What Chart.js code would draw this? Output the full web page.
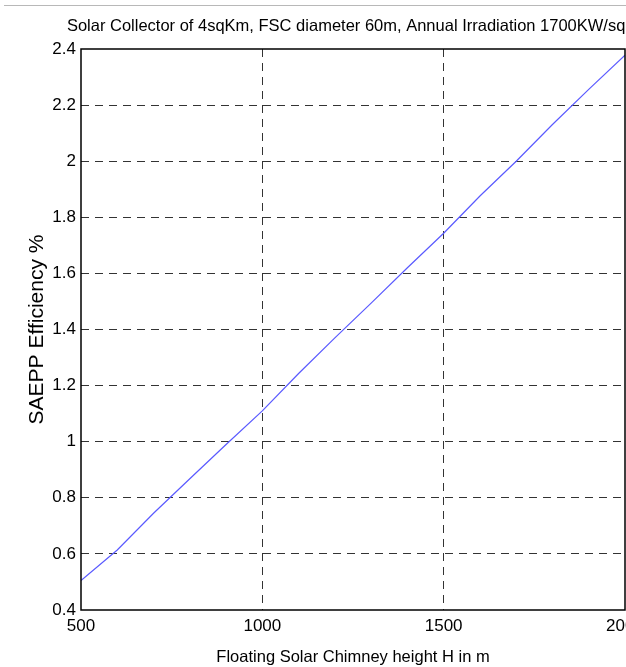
<!DOCTYPE html>
<html>
<head>
<meta charset="utf-8">
<script src="https://cdn.jsdelivr.net/npm/chart.js@4.4.1/dist/chart.umd.min.js"></script>
<style>
  html, body { margin: 0; padding: 0; background: #fff; overflow: hidden; }
  #wrap { position: relative; width: 626px; height: 667px; overflow: hidden; }
  #topline { position: absolute; left: 4px; right: 0; top: 5px; height: 1px; background: #b8b8b8; }
  #box { position: absolute; left: 0; top: 0; width: 700px; height: 667px; }
</style>
</head>
<body>
<div id="wrap">
  <div id="topline"></div>
  <div id="box"><canvas id="chart"></canvas></div>
</div>
<script>
// chimney height H (m) and efficiency (%)
const heights = [500, 600, 700, 800, 900, 1000, 1100, 1200, 1300, 1400, 1500, 1600, 1700, 1800, 1900, 2000];
const efficiency = [0.505, 0.614, 0.745, 0.868, 0.99, 1.11, 1.243, 1.37, 1.494, 1.62, 1.743, 1.876, 2.0, 2.131, 2.256, 2.378];
const xTicks = [500, 1000, 1500, 2000];
const yTicks = [0.4, 0.6, 0.8, 1, 1.2, 1.4, 1.6, 1.8, 2, 2.2, 2.4];
const chartTitle = 'Solar Collector of 4sqKm, FSC diameter 60m, Annual Irradiation 1700KW/sqm';

const FONT = "'Liberation Sans', Arial, sans-serif";

// plot frame like matlab's box on + the title (drawn by hand so it is not squeezed to fit)
const framePlugin = {
  id: 'frame',
  afterDraw(chart) {
    const { ctx, chartArea: a } = chart;
    ctx.save();
    ctx.strokeStyle = '#000';
    ctx.lineWidth = 1.5;
    ctx.strokeRect(a.left, a.top, a.right - a.left, a.bottom - a.top);
    ctx.fillStyle = '#000';
    ctx.font = "16.5px " + FONT;
    ctx.textAlign = 'center';
    ctx.textBaseline = 'alphabetic';
    ctx.fillText(chartTitle, (a.left + a.right) / 2, 31);
    ctx.restore();
  }
};

const ctx = document.getElementById('chart').getContext('2d');
new Chart(ctx, {
  type: 'line',
  data: {
    datasets: [{
      data: heights.map((h, i) => ({ x: h, y: efficiency[i] })),
      borderColor: '#5a5aff',
      borderWidth: 1.2,
      pointRadius: 0,
      tension: 0,
      fill: false
    }]
  },
  options: {
    responsive: true,
    maintainAspectRatio: false,
    animation: false,
    layout: { padding: { left: 0, right: 75, top: 49, bottom: 0 } },
    plugins: {
      legend: { display: false },
      tooltip: { enabled: false },
      title: { display: false }
    },
    scales: {
      x: {
        type: 'linear',
        min: 500,
        max: 2000,
        afterBuildTicks(s) { s.ticks = xTicks.map(v => ({ value: v })); },
        afterFit(s) { s.height = 57; },
        grid: {
          color: (c) => (c.tick && (c.tick.value === 500 || c.tick.value === 2000)) ? 'rgba(0,0,0,0)' : '#333',
          lineWidth: 1,
          drawTicks: false
        },
        border: { display: false, dash: [8, 6] },
        ticks: {
          color: '#000',
          font: { family: FONT, size: 17 },
          padding: 6,
          maxRotation: 0,
          autoSkip: false,
          callback: (v) => String(v)
        },
        title: {
          display: true,
          text: 'Floating Solar Chimney height H in m',
          color: '#000',
          font: { family: FONT, size: 16.5 },
          padding: { top: 4, bottom: 0 }
        }
      },
      y: {
        min: 0.4,
        max: 2.4,
        afterBuildTicks(s) { s.ticks = yTicks.map(v => ({ value: v })); },
        afterFit(s) { s.width = 81; },
        grid: {
          color: (c) => (c.tick && (c.tick.value === 0.4 || c.tick.value === 2.4)) ? 'rgba(0,0,0,0)' : '#333',
          lineWidth: 1,
          drawTicks: false
        },
        border: { display: false, dash: [8, 6] },
        ticks: {
          color: '#000',
          font: { family: FONT, size: 17 },
          padding: 5,
          autoSkip: false,
          callback: (v) => String(Math.round(v * 10) / 10)
        },
        title: {
          display: true,
          text: 'SAEPP Efficiency %',
          color: '#000',
          font: { family: FONT, size: 21 },
          padding: { top: 25, bottom: 0 }
        }
      }
    }
  },
  plugins: [framePlugin]
});
</script>
</body>
</html>
